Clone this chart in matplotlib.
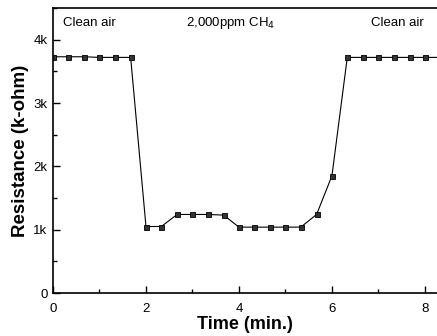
import matplotlib
matplotlib.use("Agg")
import matplotlib.pyplot as plt
from matplotlib.ticker import MultipleLocator

plt.rcParams['font.family'] = ['Liberation Sans', 'DejaVu Sans']

time_min = [0.0, 0.33, 0.67, 1.0, 1.33, 1.67, 2.0, 2.33, 2.67, 3.0, 3.33, 3.67,
            4.0, 4.33, 4.67, 5.0, 5.33, 5.67, 6.0, 6.33, 6.67, 7.0, 7.33, 7.67, 8.0, 8.33]
resistance_k = [3.73, 3.73, 3.73, 3.72, 3.72, 3.72, 1.05, 1.05, 1.24, 1.24, 1.24, 1.23,
                1.04, 1.04, 1.04, 1.04, 1.04, 1.24, 1.85, 3.72, 3.72, 3.72, 3.72, 3.72, 3.72, 3.72]
y_ticks = [0, 1, 2, 3, 4]
y_tick_labels = ["0", "1k", "2k", "3k", "4k"]
x_ticks = [0, 2, 4, 6, 8]
annotations = [("Clean air", 0.22), ("2,000ppm CH$_4$", 2.86), ("Clean air", 6.83)]

fig = plt.figure(figsize=(4.37, 3.36), dpi=100)
ax = fig.add_axes([53/437, 1-293/336, 1-53/437, (293-8)/336])

ax.plot(time_min, resistance_k, color='black', lw=0.8, marker='s', ms=3.6,
        mfc='#333333', mec='black', mew=0.6, clip_on=True)

ax.set_xlim(0, 8.26)
ax.set_ylim(0, 4.5)
ax.set_yticks(y_ticks)
ax.set_yticklabels(y_tick_labels)
ax.set_xticks(x_ticks)
ax.xaxis.set_minor_locator(MultipleLocator(1))
ax.yaxis.set_minor_locator(MultipleLocator(0.5))
ax.tick_params(which='both', direction='in', labelsize=9.5, width=1.0)
ax.tick_params(which='major', length=5)
ax.tick_params(which='minor', length=3)
ax.tick_params(axis='y', pad=4)
ax.tick_params(axis='x', pad=7)
ax.spines['right'].set_visible(False)
for s in ['left', 'bottom', 'top']:
    ax.spines[s].set_linewidth(1.2)

for txt, xpos in annotations:
    ax.text(xpos, 4.27, txt, fontsize=9.5, va='center', ha='left')

ax.set_xlabel("Time (min.)", fontsize=13, fontweight='bold', labelpad=1)
ax.set_ylabel("Resistance (k-ohm)", fontsize=13.5, fontweight='bold', labelpad=3)

fig.savefig("out.png", dpi=100)
